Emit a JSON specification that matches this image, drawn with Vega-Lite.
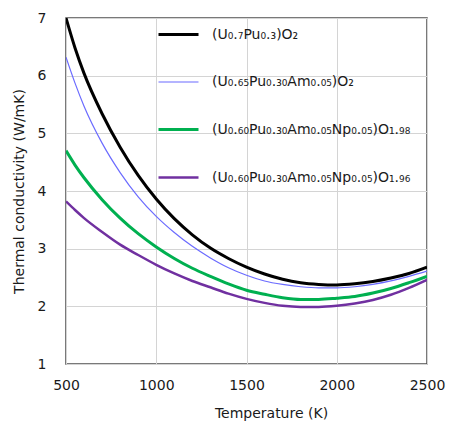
{
  "$schema": "https://vega.github.io/schema/vega-lite/v6.json",
  "width": 361,
  "height": 346,
  "autosize": "none",
  "padding": {"left": 66, "top": 18, "right": 24, "bottom": 66},
  "background": "white",
  "data": {
    "values": [
      {"T": 500, "a": 7.00, "b": 6.32, "c": 4.70, "d": 3.82},
      {"T": 550, "a": 6.48, "b": 5.87, "c": 4.45, "d": 3.67},
      {"T": 600, "a": 6.04, "b": 5.47, "c": 4.23, "d": 3.53},
      {"T": 700, "a": 5.34, "b": 4.83, "c": 3.85, "d": 3.29},
      {"T": 800, "a": 4.76, "b": 4.32, "c": 3.53, "d": 3.07},
      {"T": 900, "a": 4.27, "b": 3.90, "c": 3.26, "d": 2.89},
      {"T": 1000, "a": 3.86, "b": 3.56, "c": 3.03, "d": 2.72},
      {"T": 1100, "a": 3.52, "b": 3.28, "c": 2.83, "d": 2.57},
      {"T": 1200, "a": 3.24, "b": 3.04, "c": 2.66, "d": 2.44},
      {"T": 1300, "a": 3.01, "b": 2.84, "c": 2.52, "d": 2.33},
      {"T": 1400, "a": 2.83, "b": 2.67, "c": 2.39, "d": 2.22},
      {"T": 1500, "a": 2.68, "b": 2.54, "c": 2.28, "d": 2.13},
      {"T": 1600, "a": 2.56, "b": 2.44, "c": 2.21, "d": 2.06},
      {"T": 1700, "a": 2.47, "b": 2.38, "c": 2.15, "d": 2.01},
      {"T": 1800, "a": 2.41, "b": 2.34, "c": 2.12, "d": 1.99},
      {"T": 1900, "a": 2.38, "b": 2.32, "c": 2.12, "d": 1.99},
      {"T": 2000, "a": 2.37, "b": 2.32, "c": 2.14, "d": 2.01},
      {"T": 2100, "a": 2.39, "b": 2.34, "c": 2.17, "d": 2.05},
      {"T": 2200, "a": 2.43, "b": 2.38, "c": 2.23, "d": 2.11},
      {"T": 2300, "a": 2.49, "b": 2.44, "c": 2.31, "d": 2.20},
      {"T": 2400, "a": 2.57, "b": 2.52, "c": 2.41, "d": 2.32},
      {"T": 2500, "a": 2.68, "b": 2.61, "c": 2.52, "d": 2.46}
    ]
  },
  "transform": [{"fold": ["a", "b", "c", "d"], "as": ["series", "k"]}],
  "mark": {"type": "line", "interpolate": "monotone", "clip": true},
  "encoding": {
    "x": {
      "field": "T", "type": "quantitative",
      "scale": {"domain": [500, 2500], "nice": false},
      "axis": {"values": [500, 1000, 1500, 2000, 2500], "format": "d", "labelFlush": false, "title": "Temperature (K)", "labelPadding": 14, "titlePadding": 14, "titleX": 205, "grid": true}
    },
    "y": {
      "field": "k", "type": "quantitative",
      "scale": {"domain": [1, 7], "nice": false, "zero": false},
      "axis": {"values": [1, 2, 3, 4, 5, 6, 7], "labelFlush": false, "title": "Thermal conductivity (W/mK)", "labelPadding": 20, "titlePadding": 11, "grid": true}
    },
    "color": {
      "field": "series", "type": "nominal",
      "scale": {"domain": ["a", "b", "c", "d"], "range": ["#000000", "#6b6bff", "#00b050", "#7030a0"]},
      "legend": {
        "orient": "none", "legendX": 91, "legendY": -5, "title": null,
        "symbolType": "stroke", "symbolSize": 1600, "rowPadding": 19, "labelOffset": 12,
        "labelFontSize": 14, "labelFont": "DejaVu Sans", "labelColor": "#1a1a1a", "labelLimit": 300,
        "labelExpr": "datum.value == 'a' ? '(U₀.₇Pu₀.₃)O₂' : datum.value == 'b' ? '(U₀.₆₅Pu₀.₃₀Am₀.₀₅)O₂' : datum.value == 'c' ? '(U₀.₆₀Pu₀.₃₀Am₀.₀₅Np₀.₀₅)O₁.₉₈' : '(U₀.₆₀Pu₀.₃₀Am₀.₀₅Np₀.₀₅)O₁.₉₆'"
      }
    },
    "strokeWidth": {
      "field": "series", "type": "nominal",
      "scale": {"type": "ordinal", "domain": ["a", "b", "c", "d"], "range": [3, 1.2, 3, 2.5]},
      "legend": null
    }
  },
  "config": {
    "view": {"stroke": "#4d4d4d", "strokeWidth": 1.5},
    "axis": {
      "domain": false, "ticks": false, "gridColor": "#d4d4d4", "gridWidth": 1, "gridOpacity": 1,
      "labelFont": "DejaVu Sans", "labelFontSize": 14, "labelColor": "#1a1a1a",
      "titleFont": "DejaVu Sans", "titleFontSize": 14, "titleFontWeight": "normal", "titleColor": "#1a1a1a"
    }
  }
}
